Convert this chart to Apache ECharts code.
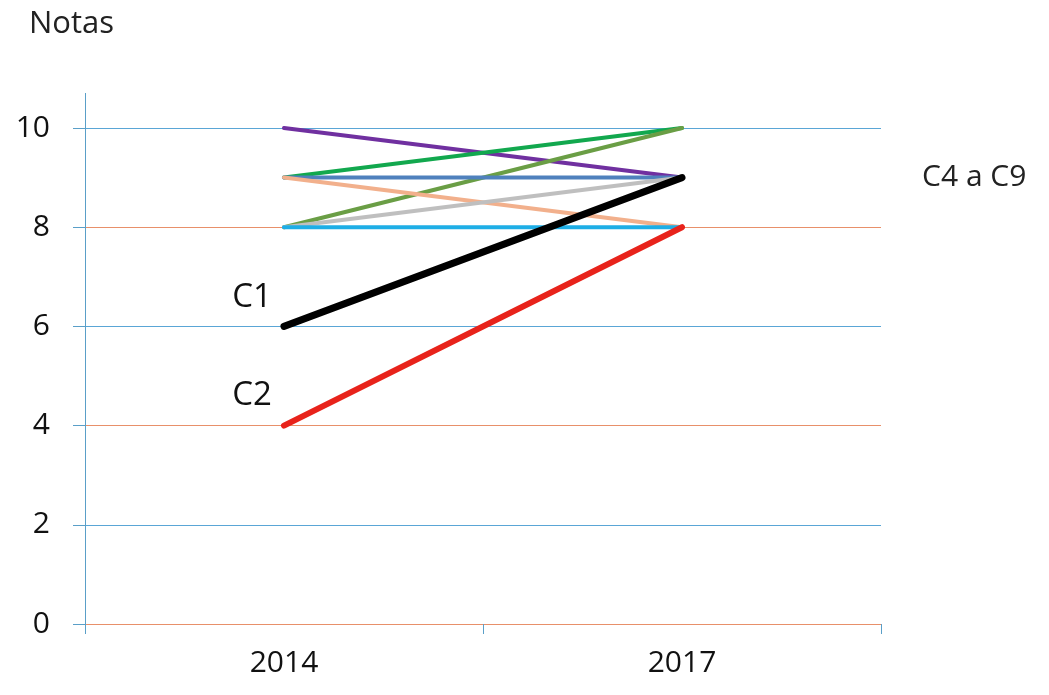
<!DOCTYPE html>
<html>
<head>
<meta charset="utf-8">
<title>Notas</title>
<script src="https://cdn.jsdelivr.net/npm/echarts@6/dist/echarts.min.js"></script>
<style>
  html, body { margin: 0; padding: 0; background: #fff; }
  #chart { width: 1049px; height: 695px; }
</style>
</head>
<body>
<div id="chart"></div>
<script>
// data
const years = ['2014', '2017']
const yTicks = [0, 2, 4, 6, 8, 10]

const c1 = [6, 9]
const c2 = [4, 8]
const purple = [10, 9]
const green = [9, 10]
const olive = [8, 10]
const steel = [9, 9]
const peach = [9, 8]
const grey = [8, 9]
const cyan = [8, 8]

const chart = echarts.init(document.getElementById('chart'))

function thin(name, data, color) {
    return {
        name: name,
        type: 'line',
        data: data,
        showSymbol: false,
        symbol: 'none',
        silent: true,
        lineStyle: { color: color, width: 4, cap: 'round' },
    }
}

const font = "'Open Sans', 'Noto Sans', sans-serif"

const option = {
    animation: false,
    backgroundColor: '#fff',
    textStyle: { fontFamily: font },
    title: {
        text: 'Notas',
        left: 24,
        top: 4,
        textStyle: { fontSize: 31, fontWeight: 'normal', color: '#222', fontFamily: font },
    },
    grid: { left: 85, right: 168, top: 128, bottom: 71 },
    xAxis: {
        type: 'category',
        data: years,
        boundaryGap: true,
        axisLine: { show: false },
        axisTick: { show: true, length: 10, lineStyle: { color: '#5a9fc8', width: 1 } },
        axisLabel: { fontSize: 30, color: '#111', margin: 24, fontFamily: font },
    },
    yAxis: {
        type: 'value',
        min: yTicks[0],
        max: yTicks[yTicks.length - 1],
        interval: 2,
        axisLine: { show: true, lineStyle: { color: '#5a9fc8', width: 1 } },
        axisTick: { show: true, length: 12, lineStyle: { color: '#5a9fc8' } },
        axisLabel: { fontSize: 30, color: '#111', margin: 35, fontFamily: font },
        splitLine: { show: true, lineStyle: { color: ['#e8906a', '#5aa6d6'], width: 1 } },
    },
    graphic: [
        {
            type: 'line',
            shape: { x1: 85.5, y1: 93, x2: 85.5, y2: 128 },
            style: { stroke: '#5a9fc8', lineWidth: 1 },
        },
    ],
    series: [
        thin('purple', purple, '#7030a0'),
        thin('green', green, '#12a84e'),
        thin('olive', olive, '#6a9e45'),
        Object.assign(thin('steel', steel, '#4f81bd'), {
            data: steel.map((v, i) => i === 1 ? {
                value: v,
                label: {
                    show: true, formatter: 'C4 a C9', position: 'right', distance: 240,
                    fontSize: 30, color: '#222', fontFamily: font,
                },
            } : v),
            showSymbol: true,
            symbolSize: 0.1,
            symbol: 'circle',
        }),
        thin('peach', peach, '#f2b08c'),
        thin('grey', grey, '#bfbfbf'),
        thin('cyan', cyan, '#1eaee6'),
        {
            name: 'C1',
            type: 'line',
            silent: true,
            symbol: 'circle',
            symbolSize: 0.1,
            data: c1.map((v, i) => i === 0 ? {
                value: v,
                label: {
                    show: true, formatter: 'C1', position: 'inside', offset: [-32, -29],
                    fontSize: 33, color: '#111', fontFamily: font,
                },
            } : v),
            lineStyle: { color: '#000', width: 7, cap: 'round' },
        },
        {
            name: 'C2',
            type: 'line',
            silent: true,
            symbol: 'circle',
            symbolSize: 0.1,
            data: c2.map((v, i) => i === 0 ? {
                value: v,
                label: {
                    show: true, formatter: 'C2', position: 'inside', offset: [-32, -30],
                    fontSize: 33, color: '#111', fontFamily: font,
                },
            } : v),
            lineStyle: { color: '#e8231b', width: 6, cap: 'round' },
        },
    ],
}

chart.setOption(option)
</script>
</body>
</html>
